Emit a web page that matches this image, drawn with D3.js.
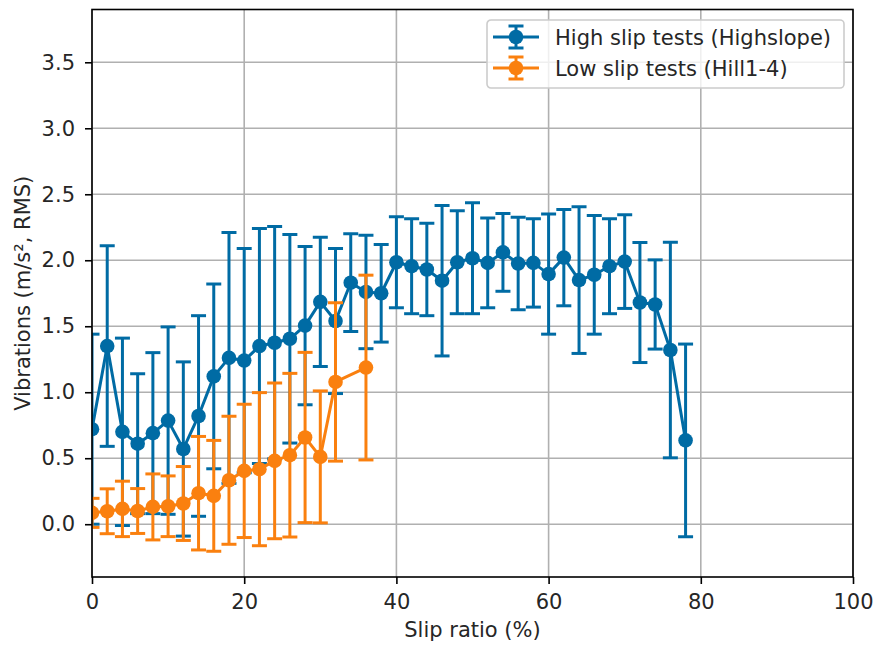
<!DOCTYPE html>
<html>
<head>
<meta charset="utf-8">
<script src="https://cdn.jsdelivr.net/npm/d3@7/dist/d3.min.js"></script>
<style>
  body { margin: 0; background: #ffffff; }
  svg text { font-family: "DejaVu Sans", sans-serif; fill: #262626; }
</style>
</head>
<body>
<div id="chart"></div>
<script>
// slip ratio (%) and RMS vibration mean / std for both test sets
const highSlipX = [0, 2, 4, 6, 8, 10, 12, 14, 16, 18, 20, 22, 24, 26, 28, 30, 32, 34, 36, 38,
                   40, 42, 44, 46, 48, 50, 52, 54, 56, 58, 60, 62, 64, 66, 68, 70, 72, 74, 76, 78];
const highSlipMean = [0.72, 1.35, 0.70, 0.61, 0.69, 0.785, 0.57, 0.82, 1.12, 1.26,
                      1.24, 1.35, 1.375, 1.405, 1.505, 1.685, 1.54, 1.83, 1.76, 1.75,
                      1.985, 1.955, 1.93, 1.845, 1.985, 2.015, 1.98, 2.06, 1.975, 1.98,
                      1.895, 2.02, 1.85, 1.89, 1.955, 1.99, 1.68, 1.665, 1.32, 0.635];
const highSlipStd = [0.72, 0.76, 0.71, 0.53, 0.61, 0.71, 0.66, 0.76, 0.70, 0.95,
                     0.85, 0.89, 0.88, 0.79, 0.60, 0.49, 0.55, 0.37, 0.43, 0.37,
                     0.345, 0.36, 0.35, 0.57, 0.39, 0.42, 0.34, 0.295, 0.35, 0.335,
                     0.455, 0.365, 0.556, 0.45, 0.36, 0.355, 0.455, 0.338, 0.817, 0.73];

const lowSlipX = [0, 2, 4, 6, 8, 10, 12, 14, 16, 18, 20, 22, 24, 26, 28, 30, 32, 36];
const lowSlipMean = [0.086, 0.098, 0.116, 0.10, 0.131, 0.136, 0.157, 0.235, 0.215,
                     0.333, 0.404, 0.417, 0.48, 0.523, 0.657, 0.51, 1.078, 1.187];
const lowSlipStd = [0.11, 0.17, 0.21, 0.17, 0.25, 0.23, 0.28, 0.43, 0.42,
                    0.485, 0.505, 0.58, 0.59, 0.62, 0.645, 0.50, 0.60, 0.70];

const seriesNames = ['High slip tests (Highslope)', 'Low slip tests (Hill1-4)'];
const seriesColors = ['#006BA4', '#FA800F'];

const xTicks = [0, 20, 40, 60, 80, 100];
const yTicks = [0.0, 0.5, 1.0, 1.5, 2.0, 2.5, 3.0, 3.5];
const xDomain = [0, 100];
const yDomain = [-0.4, 3.9];

class SlipErrorPlot {
    constructor(_config, _series) {
        this.config = {
            parentElement: _config.parentElement,
            containerWidth: _config.containerWidth || 878,
            containerHeight: _config.containerHeight || 645,
            margin: _config.margin || {top: 9.5, right: 25, bottom: 68, left: 92},
            fontSize: _config.fontSize || 21
        };
        this.series = _series;
        this.initVis();
    }

    initVis() {
        let vis = this;
        vis.width = vis.config.containerWidth - vis.config.margin.left - vis.config.margin.right;
        vis.height = vis.config.containerHeight - vis.config.margin.top - vis.config.margin.bottom;

        vis.svg = d3.select(vis.config.parentElement)
            .append('svg')
            .attr('width', vis.config.containerWidth)
            .attr('height', vis.config.containerHeight);

        vis.chart = vis.svg.append('g')
            .attr('transform', `translate(${vis.config.margin.left},${vis.config.margin.top})`);

        vis.xScale = d3.scaleLinear().domain(xDomain).range([0, vis.width]);
        vis.yScale = d3.scaleLinear().domain(yDomain).range([vis.height, 0]);

        // clip everything drawn from data to the axes box
        vis.svg.append('defs').append('clipPath')
            .attr('id', 'plot-clip')
            .append('rect')
            .attr('width', vis.width)
            .attr('height', vis.height);

        vis.gridG = vis.chart.append('g').attr('class', 'grid');
        vis.dataG = vis.chart.append('g').attr('clip-path', 'url(#plot-clip)');

        vis.xAxis = d3.axisBottom(vis.xScale)
            .tickValues(xTicks)
            .tickFormat(d3.format('d'))
            .tickSizeInner(7)
            .tickSizeOuter(0)
            .tickPadding(10);

        vis.yAxis = d3.axisLeft(vis.yScale)
            .tickValues(yTicks)
            .tickFormat(d3.format('.1f'))
            .tickSizeInner(7)
            .tickSizeOuter(0)
            .tickPadding(10);

        vis.xAxisG = vis.chart.append('g')
            .attr('class', 'axis x-axis')
            .attr('transform', `translate(0,${vis.height})`);
        vis.yAxisG = vis.chart.append('g')
            .attr('class', 'axis y-axis');

        vis.chart.append('text')
            .attr('class', 'x-axis-title')
            .attr('x', vis.width / 2)
            .attr('y', vis.height + 60)
            .attr('text-anchor', 'middle')
            .style('font-size', vis.config.fontSize + 'px')
            .text('Slip ratio (%)');

        vis.chart.append('text')
            .attr('class', 'y-axis-title')
            .attr('transform', `translate(${30 - vis.config.margin.left},${vis.height / 2}) rotate(-90)`)
            .attr('text-anchor', 'middle')
            .style('font-size', vis.config.fontSize + 'px')
            .text('Vibrations (m/s², RMS)');
    }

    updateVis() {
        let vis = this;
        vis.points = vis.series.map(s => s.x.map((x, i) => ({x: x, mean: s.mean[i], std: s.std[i]})));
        vis.line = d3.line()
            .x(d => vis.xScale(d.x))
            .y(d => vis.yScale(d.mean));
        vis.renderVis();
    }

    renderVis() {
        let vis = this;
        const cap = 7.5;
        const lw = 3;

        // grid lines
        vis.gridG.selectAll('.vgrid')
            .data(xTicks)
            .join('line')
            .attr('class', 'vgrid')
            .attr('x1', d => vis.xScale(d)).attr('x2', d => vis.xScale(d))
            .attr('y1', 0).attr('y2', vis.height)
            .attr('stroke', '#b0b0b0').attr('stroke-width', 1.6);
        vis.gridG.selectAll('.hgrid')
            .data(yTicks)
            .join('line')
            .attr('class', 'hgrid')
            .attr('x1', 0).attr('x2', vis.width)
            .attr('y1', d => vis.yScale(d)).attr('y2', d => vis.yScale(d))
            .attr('stroke', '#b0b0b0').attr('stroke-width', 1.6);

        // one group per series: error bars, caps, then the line with markers
        const seriesG = vis.dataG.selectAll('.series')
            .data(vis.points)
            .join('g')
            .attr('class', 'series')
            .attr('stroke', (d, i) => seriesColors[i])
            .attr('fill', (d, i) => seriesColors[i]);

        seriesG.selectAll('.err')
            .data(d => d)
            .join('line')
            .attr('class', 'err')
            .attr('x1', d => vis.xScale(d.x)).attr('x2', d => vis.xScale(d.x))
            .attr('y1', d => vis.yScale(d.mean - d.std))
            .attr('y2', d => vis.yScale(d.mean + d.std))
            .attr('stroke-width', lw);

        seriesG.selectAll('.cap')
            .data(d => d.flatMap(p => [p.mean - p.std, p.mean + p.std].map(v => ({x: p.x, v: v}))))
            .join('line')
            .attr('class', 'cap')
            .attr('x1', d => vis.xScale(d.x) - cap).attr('x2', d => vis.xScale(d.x) + cap)
            .attr('y1', d => vis.yScale(d.v)).attr('y2', d => vis.yScale(d.v))
            .attr('stroke-width', lw);

        seriesG.selectAll('.trace')
            .data(d => [d])
            .join('path')
            .attr('class', 'trace')
            .attr('d', vis.line)
            .attr('fill', 'none')
            .attr('stroke-width', lw)
            .attr('stroke-linejoin', 'round');

        seriesG.selectAll('.dot')
            .data(d => d)
            .join('circle')
            .attr('class', 'dot')
            .attr('cx', d => vis.xScale(d.x))
            .attr('cy', d => vis.yScale(d.mean))
            .attr('r', 7.3)
            .attr('stroke', 'none');

        vis.xAxisG.call(vis.xAxis)
            .call(g => g.select('.domain').remove());
        vis.yAxisG.call(vis.yAxis)
            .call(g => g.select('.domain').remove());
        vis.chart.selectAll('.axis .tick line')
            .attr('stroke', '#000').attr('stroke-width', 1.6);
        vis.chart.selectAll('.axis .tick text')
            .style('font-size', vis.config.fontSize + 'px')
            .attr('fill', '#262626');

        // axes frame
        vis.chart.append('rect')
            .attr('width', vis.width)
            .attr('height', vis.height)
            .attr('fill', 'none')
            .attr('stroke', '#000')
            .attr('stroke-width', 1.6);

        vis.renderLegend();
    }

    renderLegend() {
        let vis = this;
        const lg = vis.chart.append('g')
            .attr('class', 'legend')
            .attr('transform', `translate(${vis.width - 366},${10.5})`);

        lg.append('rect')
            .attr('width', 357)
            .attr('height', 68)
            .attr('rx', 4)
            .attr('fill', '#fff')
            .attr('fill-opacity', 0.8)
            .attr('stroke', '#cccccc')
            .attr('stroke-width', 1.6);

        const item = lg.selectAll('.legend-item')
            .data(seriesNames)
            .join('g')
            .attr('class', 'legend-item')
            .attr('transform', (d, i) => `translate(0,${17 + i * 31})`);

        item.append('line')
            .attr('x1', 6).attr('x2', 52).attr('y1', 0).attr('y2', 0)
            .attr('stroke', (d, i) => seriesColors[i]).attr('stroke-width', 3);
        item.append('line')
            .attr('x1', 29).attr('x2', 29).attr('y1', -11).attr('y2', 11)
            .attr('stroke', (d, i) => seriesColors[i]).attr('stroke-width', 3);
        [-11, 11].forEach(dy => {
            item.append('line')
                .attr('x1', 29 - 7.5).attr('x2', 29 + 7.5).attr('y1', dy).attr('y2', dy)
                .attr('stroke', (d, i) => seriesColors[i]).attr('stroke-width', 3);
        });
        item.append('circle')
            .attr('cx', 29).attr('cy', 0).attr('r', 7.3)
            .attr('fill', (d, i) => seriesColors[i]);
        item.append('text')
            .attr('x', 68)
            .attr('y', 7.5)
            .style('font-size', vis.config.fontSize + 'px')
            .text(d => d);
    }
}

const plot = new SlipErrorPlot({parentElement: '#chart'}, [
    {x: highSlipX, mean: highSlipMean, std: highSlipStd},
    {x: lowSlipX, mean: lowSlipMean, std: lowSlipStd}
]);
plot.updateVis();
</script>
</body>
</html>
